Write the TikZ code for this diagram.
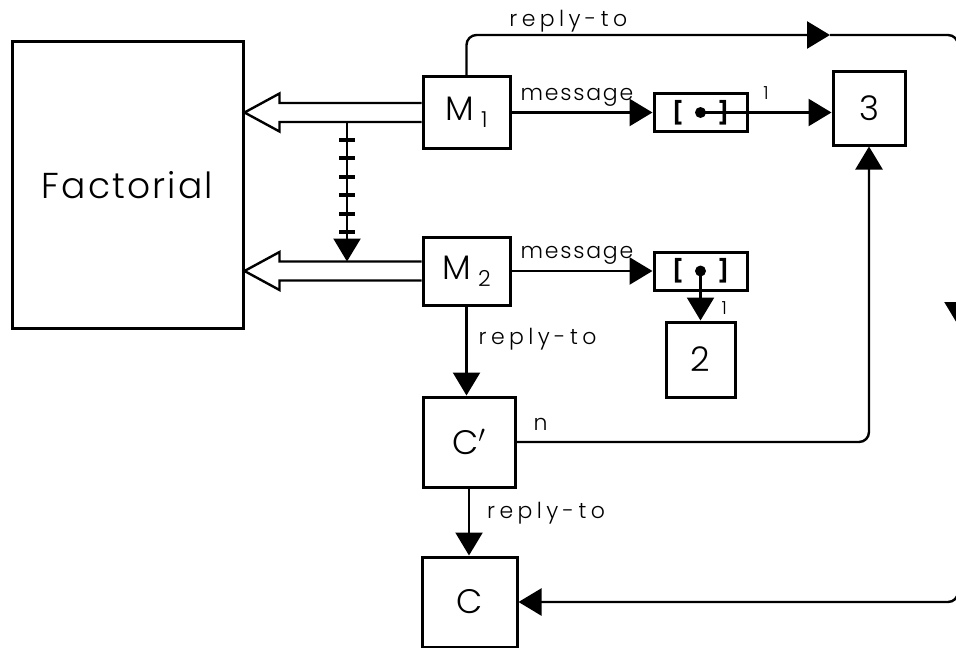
\documentclass[tikz,border=0pt]{standalone}
\usepackage{fontspec}
\IfFontExistsTF{Poppins Light}{\setmainfont{Poppins}[UprightFont=* Light, BoldFont=* Bold]}{\setmainfont{Poppins}}
\usetikzlibrary{arrows.meta,calc}

\newcommand{\msub}[2]{#1\hspace{3.5pt}\raisebox{-3.5pt}{\fontsize{11}{12}\selectfont #2}}

\tikzset{
  >={Triangle[length=11.5pt,width=13.5pt]},
  box/.style={draw, line width=1.5pt, inner sep=0pt, font=\fontsize{17}{20}\selectfont},
  sbox/.style={draw, line width=1.5pt, inner sep=0pt, minimum width=46.5pt, minimum height=19pt, font=\fontsize{11}{12}\selectfont\bfseries},
  conn/.style={line width=1.2pt},
  dot/.style={circle, fill, inner sep=0pt, minimum size=5.5pt},
  lbl/.style={font=\fontsize{11}{13}\selectfont\addfontfeature{LetterSpace=20}, inner sep=1pt},
  msg/.style={font=\fontsize{11}{13}\selectfont\addfontfeature{LetterSpace=8}, inner sep=1pt},
  num/.style={font=\fontsize{9}{10}\selectfont, inner sep=1pt}
}

\begin{document}
\begin{tikzpicture}[x=0.5pt, y=-0.5pt]
\useasboundingbox (0,0) rectangle (956,647);
\clip (0,0) rectangle (956,647);

% boxes
\node[box, minimum width=115.5pt, minimum height=143pt, font=\fontsize{18}{21}\selectfont\addfontfeature{LetterSpace=6}] (fact) at (127.5,185) {Factorial};
\node[box, minimum width=43.5pt, minimum height=35.5pt] (m1) at (466.5,112.5) {\msub{M}{1}};
\node[box, minimum width=43.5pt, minimum height=34pt] (m2) at (466.5,271) {\msub{M}{2}};
\node[box, minimum width=36pt, minimum height=36.5pt] (b3) at (869,108.5) {3};
\node[sbox] (s1) at (700.5,112.5) {[\hspace{17pt}]};
\node[sbox] (s2) at (700.5,271) {[\hspace{17pt}]};
\node[dot] (d1) at (s1.center) {};
\node[dot] (d2) at (s2.center) {};
\node[box, minimum width=34.5pt, minimum height=37.5pt] (b2) at (700.5,359.5) {2};
\node[box, minimum width=46pt, minimum height=45pt] (cp) at (469,442) {C$'$};
\node[box, minimum width=47.5pt, minimum height=45pt] (c) at (469.5,602) {C};

% hollow arrows into Factorial
\foreach \m in {m1,m2}
  \draw[conn, line join=miter] ($(\m.west)+(0,-9.5)$) -- ($(fact.east |- \m.west)+(35,-9.5)$) -- ++(0,-9.5)
    -- (fact.east |- \m.west) -- ++(35,19) -- ++(0,-9.5) -- ($(\m.west)+(0,9.5)$);

% hatched arrow
\coordinate (h1) at (347,122);
\coordinate (h2) at (347,261.5);
\draw[conn,->] (h1) -- (h2);
\foreach \y in {140,158,177,195,214,232}
  \draw[line width=1.8pt] (339,\y) -- (355,\y);

% messages
\draw[conn,->] (m1.east) -- (s1.west) node[msg, pos=0, above right, xshift=3pt, yshift=1.5pt] {message};
\draw[conn,->] (m2.east) -- (s2.west) node[msg, pos=0, above right, xshift=3pt, yshift=1.5pt] {message};
\draw[conn,->] (d1.center) -- (d1 -| b3.west) node[num, midway, above=5pt] {1};
\draw[conn,->] (d2.center) -- (b2.north) node[num, pos=0.75, right=9pt] {1};

% reply-to chain
\coordinate (ta) at (830,35);
\coordinate (ra) at (958,325);
\draw[conn, rounded corners=5pt, ->] (m1.north) |- (ta) node[lbl, pos=0.64, above] {reply-to};
\draw[conn, rounded corners=5pt, ->] (ta) -| (ra);
\draw[conn, rounded corners=5pt, ->] (ra) |- (c.east);
\draw[conn, rounded corners=5pt, ->] (cp.east) -| (b3.south) node[lbl, pos=0, above right, xshift=7pt, yshift=4pt] {n};
\draw[conn,->] (m2.south) -- (m2.south |- cp.north) node[lbl, pos=0.37, right=4.5pt] {reply-to};
\draw[conn,->] (cp.south) -- (cp.south |- c.north) node[lbl, pos=0.37, right=7.5pt] {reply-to};

\end{tikzpicture}
\end{document}
